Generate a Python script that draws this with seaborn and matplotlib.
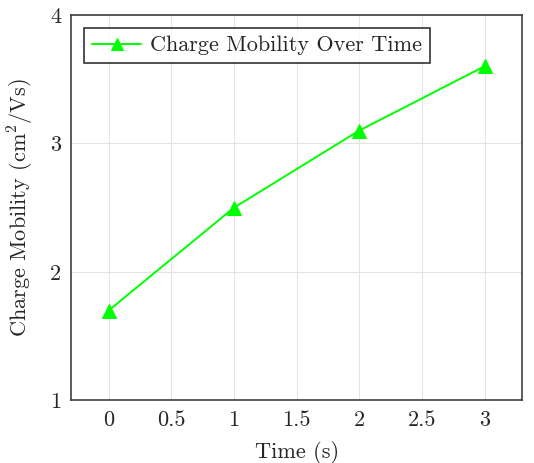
import matplotlib
matplotlib.use('Agg')
import matplotlib.pyplot as plt
import seaborn as sns
import pandas as pd

time_s = [0, 1, 2, 3]
mobility = [1.7, 2.5, 3.1, 3.6]
series_label = 'Charge Mobility Over Time'
x_ticks = [0, 0.5, 1, 1.5, 2, 2.5, 3]
y_ticks = [1, 2, 3, 4]

df = pd.DataFrame({'time': time_s, 'mobility': mobility})

sns.set_style('white')
plt.rcParams['font.family'] = ['cmr10', 'DejaVu Serif']
plt.rcParams['mathtext.fontset'] = 'cm'
plt.rcParams['axes.formatter.use_mathtext'] = True

fig = plt.figure(figsize=(5.34, 4.63), dpi=100)
ax = fig.add_axes([0.133, 0.135, 0.845, 0.833])

sns.lineplot(x='time', y='mobility', data=df, ax=ax, color='#00ff00', lw=1.4,
             marker='^', markersize=10, markeredgecolor='#00ff00', label=series_label)

ax.set_xlim(-0.3, 3.3)
ax.set_ylim(1, 4)
ax.set_xticks(x_ticks)
ax.set_xticklabels(['0', '0.5', '1', '1.5', '2', '2.5', '3'])
ax.set_yticks(y_ticks)
ax.set_yticklabels(['1', '2', '3', '4'])
ax.grid(True, color='#e3e3e3', lw=0.8)
ax.tick_params(labelsize=16, length=0, pad=7)
for s in ax.spines.values():
    s.set_color('#404040')
    s.set_linewidth(1.2)

ax.set_xlabel('Time (s)', fontsize=16, labelpad=8)
ax.set_ylabel(r'Charge Mobility (cm$^2$/Vs)', fontsize=16, labelpad=10)

leg = ax.legend(loc='upper left', fontsize=16, frameon=True, fancybox=False,
                edgecolor='black', borderaxespad=0.6, handlelength=2.2,
                handletextpad=0.4, borderpad=0.35, markerscale=0.8)
leg.get_frame().set_linewidth(1.2)

fig.savefig('out.png', dpi=100)
